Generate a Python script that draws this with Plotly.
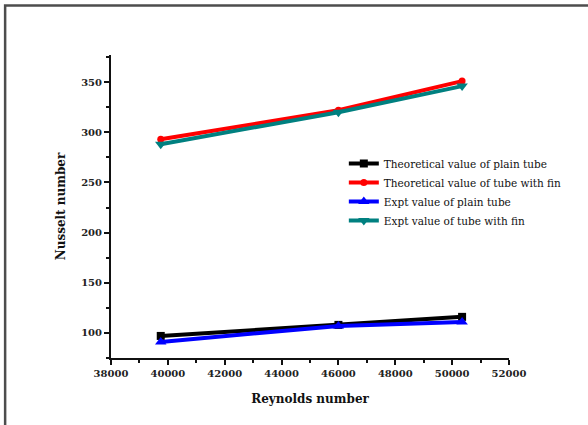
import plotly.graph_objects as go

reynolds = [39750, 46000, 50350]
theo_plain = [97, 108, 116]
theo_fin = [293, 322, 351]
expt_plain = [91, 107, 111]
expt_fin = [288, 320, 346]

names = ["Theoretical value of plain tube", "Theoretical value of tube with fin",
         "Expt value of plain tube", "Expt value of tube with fin"]
colors = ["#000000", "#ff0000", "#0000ff", "#008080"]
symbols = ["square", "circle", "triangle-up", "triangle-down"]
sizes = [8, 7, 10, 10]
series = [theo_plain, theo_fin, expt_plain, expt_fin]

fig = go.Figure()
for n, c, s, sz, y in zip(names, colors, symbols, sizes, series):
    fig.add_trace(go.Scatter(x=reynolds, y=y, name=n, mode="lines+markers",
                             line=dict(color=c, width=4),
                             marker=dict(symbol=s, size=sz, color=c)))

font = "DejaVu Serif"
axis_common = dict(showline=True, linecolor="#111", linewidth=2, ticks="outside",
                   ticklen=5, tickwidth=2, tickcolor="#111", showgrid=False, zeroline=False,
                   tickfont=dict(family=font, size=10, color="#222", weight="bold"))

fig.update_layout(
    width=588, height=425,
    margin=dict(l=111, r=79, t=55, b=67),
    paper_bgcolor="white", plot_bgcolor="white",
    showlegend=True,
    legend=dict(x=0.585, y=0.69, xanchor="left", yanchor="top",
                bgcolor="rgba(0,0,0,0)", tracegroupgap=0, itemwidth=30,
                font=dict(family=font, size=10.5, color="#111")),
    xaxis=dict(range=[38000, 52000], dtick=2000, tickformat="d",
               minor=dict(ticks="outside", ticklen=3, dtick=1000, tickcolor="#111", tickwidth=2),
               title=dict(text="<b>Reynolds number</b>", font=dict(family=font, size=12, color="#111"), standoff=17),
               **axis_common),
    yaxis=dict(range=[75, 377], tickvals=[100, 150, 200, 250, 300, 350],
               minor=dict(ticks="outside", ticklen=3, dtick=25, tick0=75, tickcolor="#111", tickwidth=2),
               title=dict(text="<b>Nusselt number</b>", font=dict(family=font, size=12, color="#111"), standoff=13),
               **axis_common),
    shapes=[dict(type="rect", xref="paper", yref="paper", x0=-0.266, x1=1.4, y0=-0.4, y1=1.163,
                 line=dict(color="#4d4d4d", width=2.5), layer="below")],
)

fig.write_html("out.html")
